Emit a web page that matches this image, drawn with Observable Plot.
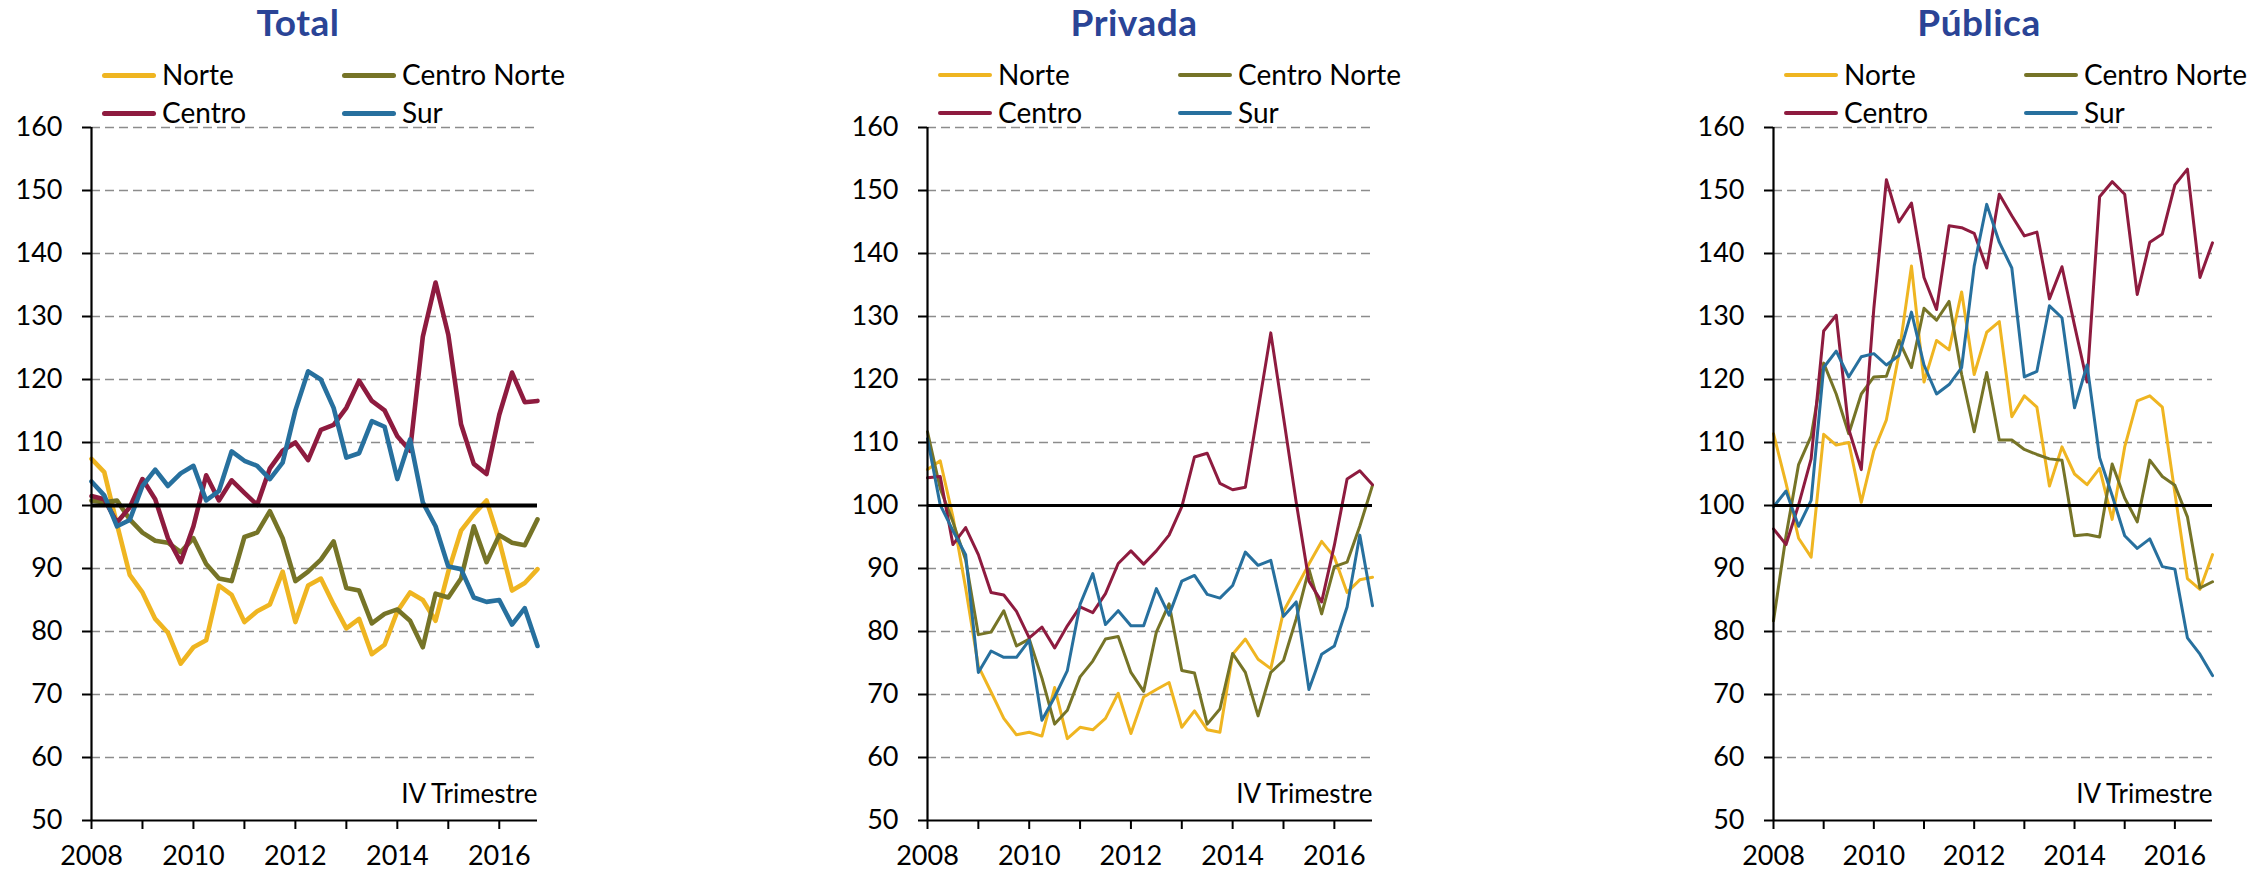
<!DOCTYPE html>
<html><head><meta charset="utf-8">
<script src="https://cdn.jsdelivr.net/npm/d3@7"></script>
<script src="https://cdn.jsdelivr.net/npm/@observablehq/plot@0.6"></script>
<style>
html,body{margin:0;padding:0;background:#fff;}
#root{position:relative;width:2268px;height:876px;overflow:hidden;font-family:Lato,"Open Sans",sans-serif;}
.title{position:absolute;width:400px;text-align:center;font-weight:700;font-size:37px;line-height:37px;color:#2a4496;letter-spacing:0.5px;}
.leg{position:absolute;font-size:28px;line-height:28px;color:#000;white-space:nowrap;}
.sw{position:absolute;}
.panel{position:absolute;top:100px;}
</style></head><body><div id="root"></div>
<script>
// Quarterly index 2008-I .. 2016-IV
const quarters = d3.range(36).map(i => 2008 + i / 4);
const regions = ["Norte", "Centro Norte", "Centro", "Sur"];
const colors = ["#EFB521", "#767427", "#8E1B3F", "#27709E"];
const yTicks = [50, 60, 70, 80, 90, 100, 110, 120, 130, 140, 150, 160];
const xTicks = [2008, 2009, 2010, 2011, 2012, 2013, 2014, 2015, 2016];
const titles = ["Total", "Privada", "Pública"];
const note = "IV Trimestre";

// Total
const totalNorte = [107.4,105.3,97,89,86.2,82,79.8,74.9,77.5,78.6,87.3,85.8,81.5,83.2,84.3,89.5,81.5,87.3,88.4,84.3,80.5,82,76.4,77.9,83.2,86.2,85,81.7,89.5,96,98.6,100.8,94.4,86.5,87.7,89.9];
const totalCentroNorte = [100.8,100.5,100.8,97.8,95.7,94.4,94.1,92.6,94.8,90.7,88.4,88,95,95.7,99.1,94.8,88,89.5,91.4,94.3,86.9,86.5,81.3,82.8,83.5,81.7,77.5,86,85.4,88.4,96.7,91,95.3,94.1,93.7,97.8];
const totalCentro = [101.5,101,97.3,99.7,104.2,101,94.8,91,96.7,104.8,100.8,104,102,100.1,105.9,108.7,110,107.2,112,112.8,115.5,119.8,116.6,115.1,111,108.7,126.8,135.4,127.1,112.9,106.6,105,114.4,121.1,116.4,116.6];
const totalSur = [103.8,101.6,96.7,97.7,103.1,105.7,103.1,105.1,106.3,100.8,102.3,108.6,107.1,106.3,104.2,106.8,115.1,121.3,120,115.5,107.6,108.3,113.4,112.5,104.2,110.5,100.5,96.7,90.3,89.9,85.4,84.7,85,81.1,83.7,77.7];

// Privada
const privNorte = [105.7,107.1,98.2,86.9,74.5,70.4,66.2,63.6,64,63.4,71.1,63,64.8,64.4,66.2,70.2,63.8,69.6,70.8,71.9,64.8,67.4,64.4,64,76.4,78.8,75.6,74.1,83.2,86.9,90.7,94.3,91.8,86.2,88.2,88.6];
const privCentroNorte = [111.7,102.7,97.4,91.4,79.5,79.9,83.3,77.7,78.8,72.6,65.3,67.5,72.8,75.3,78.8,79.2,73.5,70.5,79.9,84.4,73.8,73.4,65.3,67.7,76.5,73.5,66.6,73.5,75.4,82,89.9,82.8,90.3,91,96.7,103.2];
const privCentro = [104.4,104.6,93.8,96.5,92.2,86.2,85.8,83.2,79,80.7,77.4,80.9,83.9,83,86,90.8,92.8,90.7,92.8,95.3,99.8,107.7,108.3,103.5,102.5,102.9,115.1,127.4,114,100.5,88,84.7,93.7,104.2,105.5,103.3];
const privSur = [110.6,100.1,96,92.2,73.5,76.9,75.9,75.9,78.6,65.9,69.6,73.8,84.3,89.2,81.1,83.3,80.9,80.9,86.8,82.6,88,88.9,85.9,85.3,87.3,92.6,90.5,91.3,82.4,84.7,70.8,76.4,77.7,83.9,95.3,84.1];

// Pública
const pubNorte = [111.4,103.5,94.8,91.8,111.3,109.6,110,100.5,108.7,113.6,124,138,119.6,126.2,124.7,133.9,120.8,127.5,129.2,114.1,117.4,115.6,103.1,109.3,105,103.3,105.9,97.8,109.3,116.6,117.4,115.6,102,88.4,86.7,92.2];
const pubCentroNorte = [81.7,95.2,106.5,111,122.6,117.7,111.4,117.7,120.4,120.5,126.2,121.9,131.3,129.4,132.4,120.8,111.7,121.1,110.4,110.4,108.9,108.1,107.4,107.2,95.2,95.4,95,106.6,101.2,97.4,107.2,104.6,103.2,98.2,86.9,87.9];
const pubCentro = [96.3,93.8,100.1,107.4,127.7,130.2,112.1,105.7,131.3,151.7,145,148,136.2,131.1,144.4,144.1,143.2,137.7,149.4,146,142.8,143.4,132.8,137.9,128.6,119.6,149,151.4,149.4,133.5,141.8,143.1,150.9,153.4,136.2,141.7];
const pubSur = [99.8,102.3,96.7,100.8,121.9,124.5,120.4,123.6,124.1,122.3,123.8,130.7,122.3,117.7,119.2,121.9,138,147.8,141.8,137.7,120.4,121.3,131.7,129.8,115.5,122.3,107.6,101.6,95.2,93.2,94.7,90.3,89.9,79,76.4,73];

const panelSeries = [
  [totalNorte, totalCentroNorte, totalCentro, totalSur],
  [privNorte, privCentroNorte, privCentro, privSur],
  [pubNorte, pubCentroNorte, pubCentro, pubSur]
];

const layout = [
  {left: 0, width: 600, ml: 91, mr: 63, sw: 4.6, zero: 4, title: 298},
  {left: 840, width: 560, ml: 87, mr: 28, sw: 3, zero: 3, title: 1134},
  {left: 1680, width: 588, ml: 93, mr: 56, sw: 3, zero: 3, title: 1979}
];

const root = document.getElementById("root");

panelSeries.forEach((series, p) => {
  const L = layout[p];
  const rows = [];
  series.forEach((vals, r) => vals.forEach((v, i) => rows.push({q: quarters[i], v, region: regions[r]})));
  const chart = Plot.plot({
    width: L.width, height: 776,
    marginTop: 27, marginBottom: 56, marginLeft: L.ml, marginRight: L.mr,
    x: {domain: [2008, 2016.75]},
    y: {domain: [50, 160]},
    color: {domain: regions, range: colors},
    style: {fontFamily: "Lato, 'Open Sans', sans-serif", fontSize: "27px", color: "#000", background: "transparent", overflow: "visible"},
    marks: [
      Plot.ruleY(yTicks.filter(v => v !== 50 && v !== 100), {stroke: "#8c8c8c", strokeWidth: 1.6, strokeDasharray: "9 5"}),
      Plot.line(rows, {x: "q", y: "v", z: "region", stroke: "region", strokeWidth: L.sw, strokeLinejoin: "round", strokeLinecap: "round"}),
      Plot.ruleY([100], {stroke: "#000", strokeWidth: L.zero}),
      Plot.ruleY([50], {stroke: "#000", strokeWidth: 2.2}),
      Plot.ruleX([2008], {stroke: "#000", strokeWidth: 2.2}),
      Plot.axisY({ticks: yTicks, tickSize: 9, tickPadding: 20, label: null, strokeWidth: 2}),
      Plot.axisX({ticks: xTicks, tickSize: 9, tickPadding: 16, label: null, strokeWidth: 2,
                  tickFormat: d => (d % 2 === 0 ? String(d) : "")}),
      Plot.text([note], {frameAnchor: "bottom-right", lineAnchor: "bottom", dy: -18, fontSize: 26, fill: "#000"})
    ]
  });
  const wrap = document.createElement("div");
  wrap.className = "panel";
  wrap.style.left = L.left + "px";
  wrap.appendChild(chart);
  root.appendChild(wrap);

  const axisX = L.left + L.ml;
  // title
  const t = document.createElement("div");
  t.className = "title";
  t.style.left = (L.title - 200) + "px";
  t.style.top = "3px";
  t.textContent = titles[p];
  root.appendChild(t);
  // legend
  const pos = [[0, 0], [1, 0], [0, 1], [1, 1]];
  regions.forEach((name, r) => {
    const [c, row] = pos[r];
    const swLeft = axisX + 11 + c * 240;
    const cy = row === 0 ? 75 : 113;
    const sw = document.createElement("div");
    sw.className = "sw";
    const th = p === 0 ? 5 : 3.5;
    sw.style.cssText = `left:${swLeft}px;top:${cy - th / 2}px;width:54px;height:${th}px;background:${colors[r]};border-radius:${th}px;`;
    root.appendChild(sw);
    const tx = document.createElement("div");
    tx.className = "leg";
    tx.style.left = (swLeft + 60) + "px";
    tx.style.top = (cy - 15) + "px";
    tx.textContent = name;
    root.appendChild(tx);
  });
});
</script></body></html>
